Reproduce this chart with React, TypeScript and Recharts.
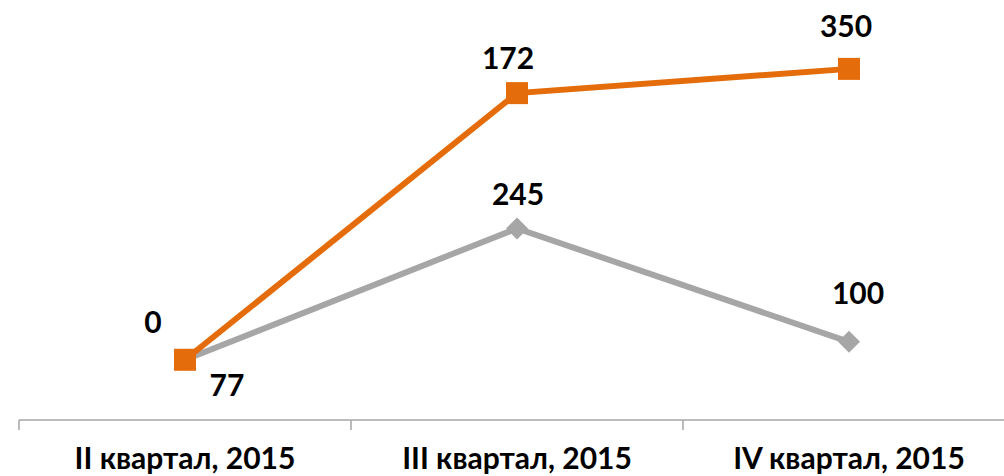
import React from 'react';
import { LineChart, Line, XAxis, YAxis } from 'recharts';

const categories = ['II квартал, 2015', 'III квартал, 2015', 'IV квартал, 2015'];
// plotted heights
const orangeValues = [77, 418, 449];
const grayValues = [77, 245, 100];
// texts written next to the points
const orangeLabels = ['0', '172', '350'];
const grayLabels = ['77', '245', '100'];

const ORANGE = '#E46C0A';
const GRAY = '#A6A6A6';
const FONT = 'Lato, "Liberation Sans", sans-serif';
const FONT_SIZE = 30;

const CHART_W = 1020;
const CHART_H = 476;
const MARGIN = { top: 29, right: 5, bottom: 0, left: 19 };
const HALF_BAND = (CHART_W - MARGIN.left - MARGIN.right) / categories.length / 2;

// label offsets (dx, dy) from the point, per index
const orangeOffsets = [[-32, -38], [-9, -35], [-3, -43]];
const grayOffsets = [[42, 25], [1, -34], [9, -49]];

const data = categories.map((name, i) => ({
  name,
  pos: i + 0.5,
  orange: orangeValues[i],
  gray: grayValues[i],
}));

const SquareDot = (props: any) => {
  const { cx, cy } = props;
  if (cx == null || cy == null) return null;
  return <rect x={cx - 11} y={cy - 11} width={22} height={22} fill={ORANGE} />;
};

const DiamondDot = (props: any) => {
  const { cx, cy } = props;
  if (cx == null || cy == null) return null;
  const r = 11;
  return <path d={`M${cx},${cy - r}L${cx + r},${cy}L${cx},${cy + r}L${cx - r},${cy}Z`} fill={GRAY} />;
};

const makeLabel = (texts: string[], offsets: number[][]) => (props: any) => {
  const { x, y, index } = props;
  const [dx, dy] = offsets[index];
  return (
    <text
      x={x + dx}
      y={y + dy}
      dy="0.36em"
      textAnchor="middle"
      fontFamily={FONT}
      fontWeight="bold"
      fontSize={FONT_SIZE}
      fill="#000"
    >
      {texts[index]}
    </text>
  );
};

const CategoryTick = (props: any) => {
  const { x, y, payload } = props;
  const label = categories[payload.value];
  if (!label) return null;
  return (
    <text
      x={x + HALF_BAND}
      y={y + 37}
      textAnchor="middle"
      fontFamily={FONT}
      fontWeight="bold"
      fontSize={FONT_SIZE}
      fill="#000"
    >
      {label}
    </text>
  );
};

export default function App() {
  return (
    <div style={{ position: 'absolute', left: 0, top: 0, width: 1004, height: 476, overflow: 'hidden', background: '#fff' }}>
      <LineChart width={CHART_W} height={CHART_H} data={data} margin={MARGIN}>
        <XAxis
          type="number"
          dataKey="pos"
          domain={[0, categories.length]}
          ticks={[0, 1, 2, 3]}
          interval={0}
          height={56}
          axisLine={{ stroke: GRAY, strokeWidth: 1.5 }}
          tickLine={{ stroke: GRAY, strokeWidth: 1.5 }}
          tickSize={10}
          tick={<CategoryTick />}
        />
        <YAxis hide domain={[0, 500]} />
        <Line
          dataKey="gray"
          stroke={GRAY}
          strokeWidth={6}
          dot={<DiamondDot />}
          activeDot={false}
          label={makeLabel(grayLabels, grayOffsets)}
          isAnimationActive={false}
        />
        <Line
          dataKey="orange"
          stroke={ORANGE}
          strokeWidth={6}
          dot={<SquareDot />}
          activeDot={false}
          label={makeLabel(orangeLabels, orangeOffsets)}
          isAnimationActive={false}
        />
      </LineChart>
    </div>
  );
}
